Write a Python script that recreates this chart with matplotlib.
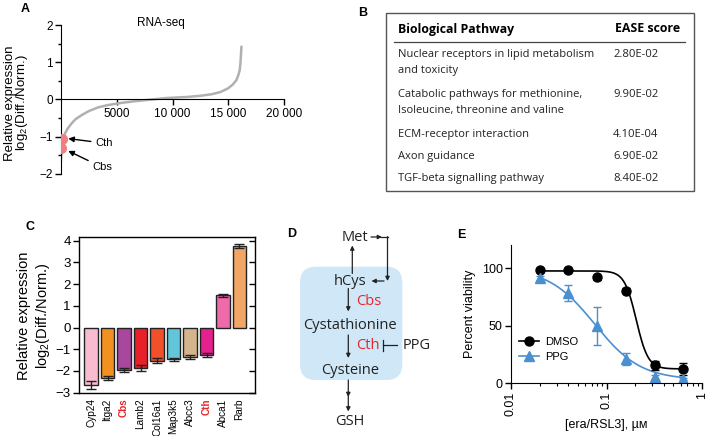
import numpy as np
import matplotlib
matplotlib.use("Agg")
import matplotlib.pyplot as plt
from matplotlib.patches import FancyBboxPatch, Rectangle

plt.rcParams["font.family"] = ["Liberation Sans", "DejaVu Sans"]
plt.rcParams["mathtext.default"] = "regular"

# A - RNA-seq ranked genes
rank = [0, 120, 360, 600, 955, 1300, 1850, 2500, 3340, 4200, 5430, 6500, 8120,
        9500, 11400, 12500, 13490, 14300, 14985, 15400, 15730, 15900, 16030, 16100, 16180]
log2ratio = [-1.63, -1.15, -0.91, -0.78, -0.64, -0.53, -0.42, -0.31, -0.21, -0.15, -0.09,
             -0.05, 0.0, 0.04, 0.07, 0.10, 0.14, 0.20, 0.30, 0.40, 0.52, 0.65, 0.79, 1.0, 1.41]
hl_rank = [120, 0]
hl_val = [-1.05, -1.31]
hl_names = ["Cth", "Cbs"]

# B - pathway table
pathways = ["Nuclear receptors in lipid metabolism\nand toxicity",
            "Catabolic pathways for methionine,\nIsoleucine, threonine and valine",
            "ECM-receptor interaction",
            "Axon guidance",
            "TGF-beta signalling pathway"]
ease = ["2.80E-02", "9.90E-02", "4.10E-04", "6.90E-02", "8.40E-02"]

# C - qPCR
genes = ["Cyp24", "Itga2", "Cbs", "Lamb2", "Col16a1", "Map3k5", "Abcc3", "Cth", "Abca1", "Rarb"]
expr = [-2.65, -2.31, -1.97, -1.85, -1.52, -1.46, -1.37, -1.26, 1.48, 3.75]
expr_err = [0.18, 0.09, 0.10, 0.13, 0.13, 0.07, 0.09, 0.08, 0.08, 0.09]
bar_colors = ["#f7bcd0", "#f29120", "#a8479c", "#e8202a", "#f0502a",
              "#62c6da", "#d4b48c", "#e5208f", "#ee6aaa", "#f2a666"]
red_genes = ["Cbs", "Cth"]

# E - viability
conc = [0.02, 0.04, 0.08, 0.16, 0.32, 0.64]
dmso = [98, 98.5, 92, 80.5, 15.5, 12.5]
dmso_err = [1.5, 1.5, 2, 2, 4, 5]
ppg = [91.5, 78, 49.5, 21, 5.5, 3.5]
ppg_err = [1.5, 7, 16.5, 5, 1.5, 1]
# fitted 4PL parameters (top, bottom, ic50, hill)
dmso_fit = (97.5, 12.5, 0.205, 7.0)
ppg_fit = (100.0, 3.0, 0.075, 1.8)

W, H = 709, 436
fig = plt.figure(figsize=(W / 100, H / 100), dpi=100)


def box(l, t, r, b):
    return [l / W, 1 - b / H, (r - l) / W, (b - t) / H]


# ---------- panel A
axA = fig.add_axes(box(61, 25, 284, 174))
axA.plot(rank, log2ratio, color="#b0b0b0", lw=1.8, zorder=2)
axA.plot(hl_rank, hl_val, "o", color="#ee8080", ms=7, zorder=3)
axA.annotate(hl_names[0], xy=(650, hl_val[0]), xytext=(3050, -1.17), fontsize=8,
             va="center", arrowprops=dict(arrowstyle="-|>", color="k", lw=1,
                                          mutation_scale=8, shrinkA=1, shrinkB=0))
axA.annotate(hl_names[1], xy=(650, -1.38), xytext=(2800, -1.82), fontsize=8,
             va="center", arrowprops=dict(arrowstyle="-|>", color="k", lw=1,
                                          mutation_scale=8, shrinkA=1, shrinkB=0))
axA.set_xlim(0, 20000)
axA.set_ylim(-2, 2)
axA.spines["left"].set_position(("data", 0))
axA.spines["bottom"].set_position(("data", 0))
axA.spines["top"].set_visible(False)
axA.spines["right"].set_visible(False)
axA.set_xticks([5000, 10000, 15000, 20000])
axA.set_xticklabels(["5000", "10 000", "15 000", "20 000"])
axA.set_yticks([-2, -1, 0, 1, 2])
axA.set_yticklabels(["\u22122", "\u22121", "0", "1", "2"])
axA.set_yticks([-1.5, -0.5, 0.5, 1.5], minor=True)
axA.tick_params(labelsize=8.5, length=4, width=1, direction="out", pad=2)
axA.tick_params(which="minor", length=2.5, width=1)
axA.patch.set_alpha(0)
axA.text(0.448, 1.015, "RNA-seq", transform=axA.transAxes, fontsize=8.5,
         ha="center", va="center")
fig.text(10 / W, 1 - 103 / H, "Relative expression", rotation=90, fontsize=9.5,
         ha="center", va="center")
fig.text(22.5 / W, 1 - 103 / H, "log$_2$(Diff./Norm.)", rotation=90, fontsize=9.5,
         ha="center", va="center")

# ---------- panel C
axC = fig.add_axes(box(79, 236.7, 255, 392.7))
xc = np.arange(len(genes))
axC.bar(xc, expr, width=0.82, color=bar_colors, edgecolor="#222222", lw=1,
        yerr=expr_err, capsize=3.5, error_kw=dict(lw=1, capthick=1, ecolor="#222222"))
axC.set_xlim(-0.73, len(genes) - 0.06)
axC.set_ylim(-3, 4.18)
axC.set_yticks(range(-3, 5))
axC.set_yticklabels([str(v).replace("-", "\u2212") for v in range(-3, 5)])
axC.set_xticks(xc)
axC.set_xticklabels(genes, rotation=90, fontsize=7.2)
for lab in axC.get_xticklabels():
    if lab.get_text() in red_genes:
        lab.set_color("#e8252a")
        lab.set_weight("bold")
axC.tick_params(axis="x", length=0, pad=4)
axC.tick_params(axis="y", labelsize=9.5, length=4, width=1, pad=2, right=True)
for s in axC.spines.values():
    s.set_linewidth(1)
# right ticks inward
for t in axC.yaxis.get_major_ticks():
    t.tick2line.set_marker(matplotlib.lines.TICKLEFT)
fig.text(24 / W, 1 - 316 / H, "Relative expression", rotation=90, fontsize=10.5,
         ha="center", va="center")
fig.text(43 / W, 1 - 316 / H, "log$_2$(Diff./Norm.)", rotation=90, fontsize=10.5,
         ha="center", va="center")

# ---------- panel E
axE = fig.add_axes(box(511, 245, 702, 383.3))
xx = np.logspace(np.log10(conc[0]), np.log10(conc[-1]), 200)


def four_pl(x, p):
    top, bot, ic50, h = p
    return bot + (top - bot) / (1 + (x / ic50) ** h)


axE.plot(xx, four_pl(xx, dmso_fit), color="k", lw=1.2)
axE.plot(xx, four_pl(xx, ppg_fit), color="#4a90d0", lw=1.2)
axE.errorbar(conc, dmso, yerr=dmso_err, fmt="o", color="k", ms=6.5, capsize=3, lw=1)
axE.errorbar(conc, ppg, yerr=ppg_err, fmt="^", color="#4a90d0", ms=6.5, capsize=3, lw=1)
hd = axE.plot([], [], "o-", color="k", ms=6.5, lw=1.2)[0]
hp = axE.plot([], [], "^-", color="#4a90d0", ms=6.5, lw=1.2)[0]
axE.legend([hd, hp], ["DMSO", "PPG"], loc="center left", bbox_to_anchor=(0.04, 0.245),
           frameon=False, fontsize=8, handlelength=1.8, handletextpad=0.6,
           borderpad=0, borderaxespad=0, labelspacing=0.4)
axE.set_xscale("log")
axE.set_xlim(0.01, 1)
axE.set_ylim(0, 120)
axE.set_yticks([0, 50, 100])
axE.set_xticks([0.01, 0.1, 1])
axE.set_xticklabels(["0.01", "0.1", "1"], rotation=90)
axE.spines["top"].set_visible(False)
axE.spines["right"].set_visible(False)
axE.tick_params(labelsize=9, length=4, width=1, pad=2)
axE.tick_params(which="minor", length=2.5, width=0.8)
axE.set_ylabel("Percent viability", fontsize=9, labelpad=4)
axE.set_xlabel("[era/RSL3], \u00b5\u1d0d", fontsize=9, labelpad=2)
axE.patch.set_alpha(0)

# ---------- overlay for table (B), pathway (D), panel letters
ov = fig.add_axes([0, 0, 1, 1], zorder=-1)
ov.set_xlim(0, W)
ov.set_ylim(H, 0)
ov.axis("off")

sf = ["Open Sans", "DejaVu Sans"]
ov.add_patch(Rectangle((385.7, 12.7), 694 - 385.7, 191 - 12.7, fill=False,
                       ec="#555555", lw=1))
ov.plot([394, 685], [41.7, 41.7], color="#444444", lw=0.9)
ov.text(398, 29, "Biological Pathway", family=sf, weight="bold", fontsize=8.9, va="center")
ov.text(615, 29, "EASE score", family=sf, weight="bold", fontsize=8.9, va="center")
row_y = [54.3, 94.3, 134.3, 156, 178]
for y, name, val in zip(row_y, pathways, ease):
    for k, line in enumerate(name.split("\n")):
        ov.text(398, y + 15.7 * k, line, family=sf, fontsize=8.0, va="center", color="#222222")
    ov.text(613, y, val, family=sf, fontsize=8.1, va="center", color="#222222")

# D pathway diagram
ov.add_patch(FancyBboxPatch((316, 282.7), 70.3, 81.3,
                            boxstyle="round,pad=16", fc="#cfe7f7", ec="none"))
dfs = 10.5
for txt, x, y in [("Met", 355, 237), ("hCys", 350, 281), ("Cystathionine", 350, 325),
                  ("Cysteine", 350, 370.5), ("GSH", 350, 421.5)]:
    ov.text(x, y, txt, family=sf, fontsize=dfs, ha="center", va="center", color="#222222")
ov.text(356, 301.7, "Cbs", family=sf, fontsize=dfs, ha="left", va="center", color="#e8252a")
ov.text(356, 345, "Cth", family=sf, fontsize=dfs, ha="left", va="center", color="#e8252a")
ov.text(403, 345, "PPG", family=sf, fontsize=dfs, ha="left", va="center", color="#222222")

ap = dict(arrowstyle="-|>", color="#222222", lw=0.9, mutation_scale=6, shrinkA=0, shrinkB=0)
ov.annotate("", xy=(382, 237), xytext=(371, 237), arrowprops=ap)
ov.plot([381, 387.5], [237, 237], color="#222222", lw=0.9)
ov.annotate("", xy=(387.5, 281), xytext=(387.5, 236.6), arrowprops=ap)
ov.annotate("", xy=(371.5, 281), xytext=(384, 281), arrowprops=ap)
ov.annotate("", xy=(352.3, 245.5), xytext=(352.3, 273.5), arrowprops=ap)
ov.annotate("", xy=(348.3, 311.5), xytext=(348.3, 288.5), arrowprops=ap)
ov.annotate("", xy=(348.3, 358), xytext=(348.3, 335), arrowprops=ap)
ov.annotate("", xy=(348.3, 397), xytext=(348.3, 380), arrowprops=ap)
ov.annotate("", xy=(348.3, 411.5), xytext=(348.3, 396), arrowprops=ap)
ov.plot([382.7, 382.7], [339.5, 350.5], color="#222222", lw=0.9)
ov.plot([382.7, 396.7], [345, 345], color="#222222", lw=0.9)

for letter, x, y in [("A", 25, 8.5), ("B", 363, 13), ("C", 30.5, 227),
                     ("D", 291.5, 233.5), ("E", 461.5, 235)]:
    ov.text(x, y, letter, fontsize=9, weight="bold", ha="center", va="center")

fig.savefig("out.png", dpi=100)
